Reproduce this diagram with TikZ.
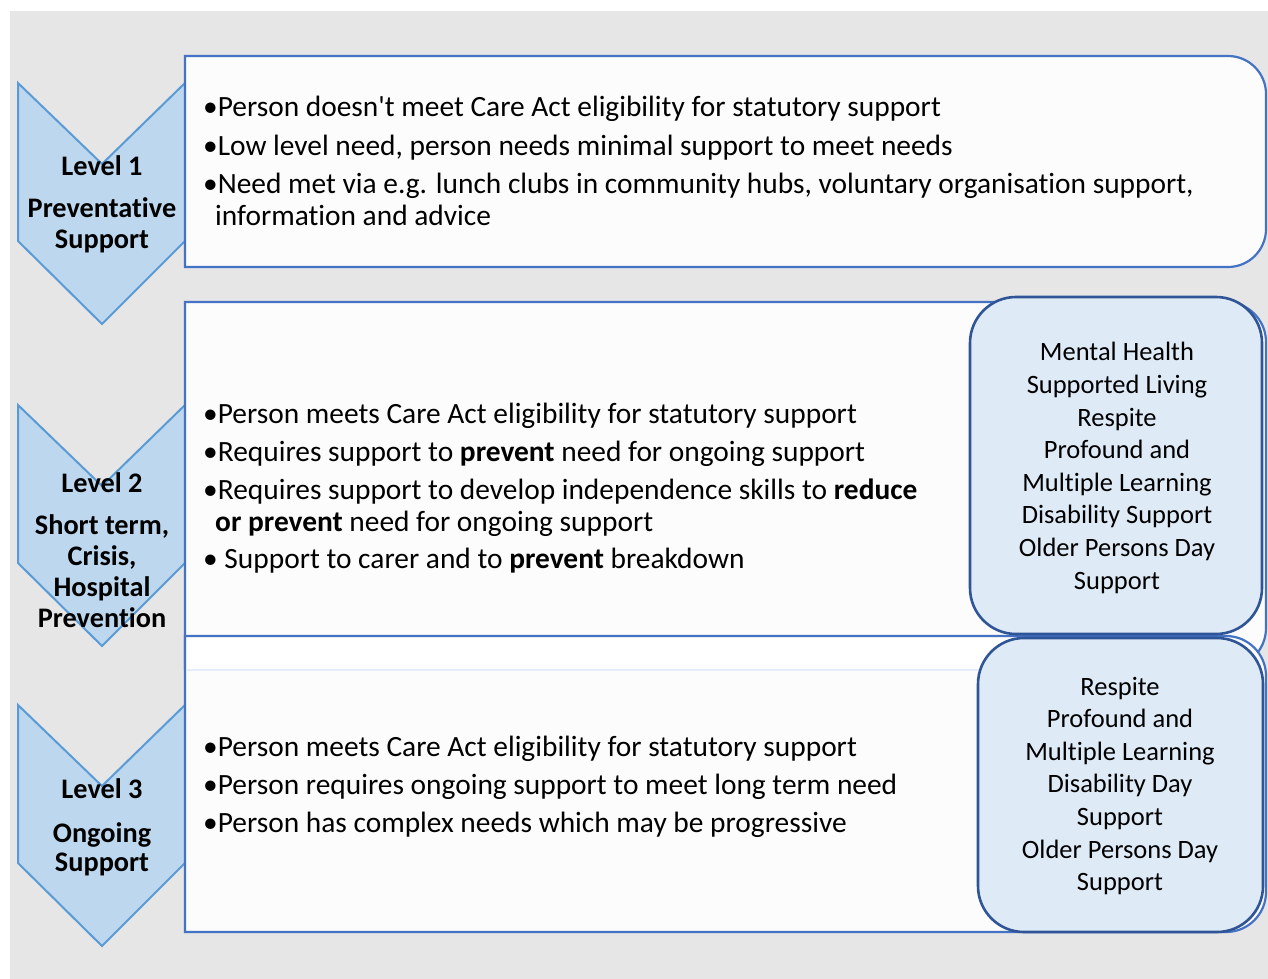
\documentclass[tikz,border=0pt]{standalone}
\usepackage{fontspec}
\setmainfont{Carlito}[Ligatures={TeXOff,CommonOff}]
\definecolor{pagegrey}{HTML}{E6E6E6}
\definecolor{boxline}{HTML}{4472C4}
\definecolor{boxfill}{HTML}{FCFCFC}
\definecolor{bandline}{HTML}{E6ECF7}
\definecolor{chevfill}{HTML}{BDD7EE}
\definecolor{chevline}{HTML}{5B9BD5}
\definecolor{sidefill}{HTML}{DEEAF6}
\definecolor{sideline}{HTML}{2F5597}

\begin{document}
\begin{tikzpicture}[
  x=1pt,
  y=-1pt,
  every node/.style={inner sep=0pt, text=black},
  chevron/.style={fill=chevfill, draw=chevline, line width=2pt, line join=miter},
  levelbox/.style={fill=boxfill, draw=boxline, line width=2.2pt},
  sidebox/.style={fill=sidefill, draw=sideline, line width=2.6pt,
                  rounded corners=46pt},
  item/.style={anchor=base west, font=\fontsize{29.4}{32}\selectfont},
  levellabel/.style={anchor=base, font=\fontsize{28.3}{31}\selectfont\bfseries},
  services/.style={align=center, font=\fontsize{26.5}{32.6}\selectfont}
]

  %% ---- page and grey ground ------------------------------------------
  \fill[white] (0,0) rectangle (1268,979);
  \fill[pagegrey] (10,11) rectangle (1268,979);

  %% ---- the three chevrons ---------------------------------------------
  % top at t, notch at t+81, sides end at t+158, tip at t+241
  \foreach \t in {83, 405, 705}
    \draw[chevron] (18,\t) -- (102,\t+81) -- (185,\t) -- (185,\t+158)
      -- (102,\t+241) -- (18,\t+158) -- cycle;

  %% ---- boxes, square at the left, rounded at the right ---------------
  \draw[levelbox] (185,56) -- (1228,56) arc[start angle=-90, end angle=0, radius=38]
    -- (1266,229) arc[start angle=0, end angle=90, radius=38] -- (185,267) -- cycle;

  \draw[levelbox] (185,302) -- (1226,302) arc[start angle=-90, end angle=0, radius=40]
    -- (1266,628) arc[start angle=0, end angle=90, radius=40] -- (185,668) -- cycle;

  \draw[levelbox] (185,636) -- (1226,636) arc[start angle=-90, end angle=0, radius=40]
    -- (1266,892) arc[start angle=0, end angle=90, radius=40] -- (185,932) -- cycle;
  % white strip under the top edge of the third box
  \fill[white] (186.5,637.5) rectangle (1000,669);
  \draw[bandline, line width=1.5pt] (186.5,670) -- (1000,670);

  %% ---- service boxes on the right -------------------------------------
  \draw[sidebox] (970,297) rectangle (1262,634);
  \draw[sidebox] (978,638) rectangle (1263,932);

  %% ---- level labels ---------------------------------------------------
  \node[levellabel] (lvone)   at (102,175) {Level 1};
  \node[levellabel] (lvonea)  at (102,217) {Preventative};
  \node[levellabel] (lvoneb)  at (102,248) {Support};

  \node[levellabel] (lvtwo)   at (102,492) {Level 2};
  \node[levellabel] (lvtwoa)  at (102,534) {Short term,};
  \node[levellabel] (lvtwob)  at (102,565) {Crisis,};
  \node[levellabel] (lvtwoc)  at (102,596) {Hospital};
  \node[levellabel] (lvtwod)  at (102,627) {Prevention};

  \node[levellabel] (lvthree)  at (102,798) {Level 3};
  \node[levellabel] (lvthreea) at (102,842) {Ongoing};
  \node[levellabel] (lvthreeb) at (102,871) {Support};

  %% ---- bullets, level 1 -----------------------------------------------
  \node[item] (onea) at (203,117) {•Person doesn't meet Care Act eligibility for statutory support};
  \node[item] (oneb) at (203,155) {•Low level need, person needs minimal support to meet needs};
  \node[item] (onec) at (203,193) {•Need met via e.g. lunch clubs in community hubs, voluntary organisation support,};
  \node[item] (oned) at (215,225) {information and advice};

  %% ---- bullets, level 2 -----------------------------------------------
  \node[item] (twoa) at (203,423) {•Person meets Care Act eligibility for statutory support};
  \node[item] (twob) at (203,461) {•Requires support to \textbf{prevent} need for ongoing support};
  \node[item] (twoc) at (203,499) {•Requires support to develop independence skills to \textbf{reduce}};
  \node[item] (twod) at (215,531) {\textbf{or prevent} need for ongoing support};
  \node[item] (twoe) at (203,568) {• Support to carer and to \textbf{prevent} breakdown};

  %% ---- bullets, level 3 -----------------------------------------------
  \node[item] (threea) at (203,756) {•Person meets Care Act eligibility for statutory support};
  \node[item] (threeb) at (203,794) {•Person requires ongoing support to meet long term need};
  \node[item] (threec) at (203,832) {•Person has complex needs which may be progressive};

  %% ---- services -------------------------------------------------------
  \node[services] (servtwo) at (1117,468) {Mental Health\\Supported Living\\Respite\\Profound and\\
    Multiple Learning\\Disability Support\\Older Persons Day\\Support};
  \node[services] (servthree) at (1120,786) {Respite\\Profound and\\Multiple Learning\\
    Disability Day\\Support\\Older Persons Day\\Support};

\end{tikzpicture}
\end{document}
